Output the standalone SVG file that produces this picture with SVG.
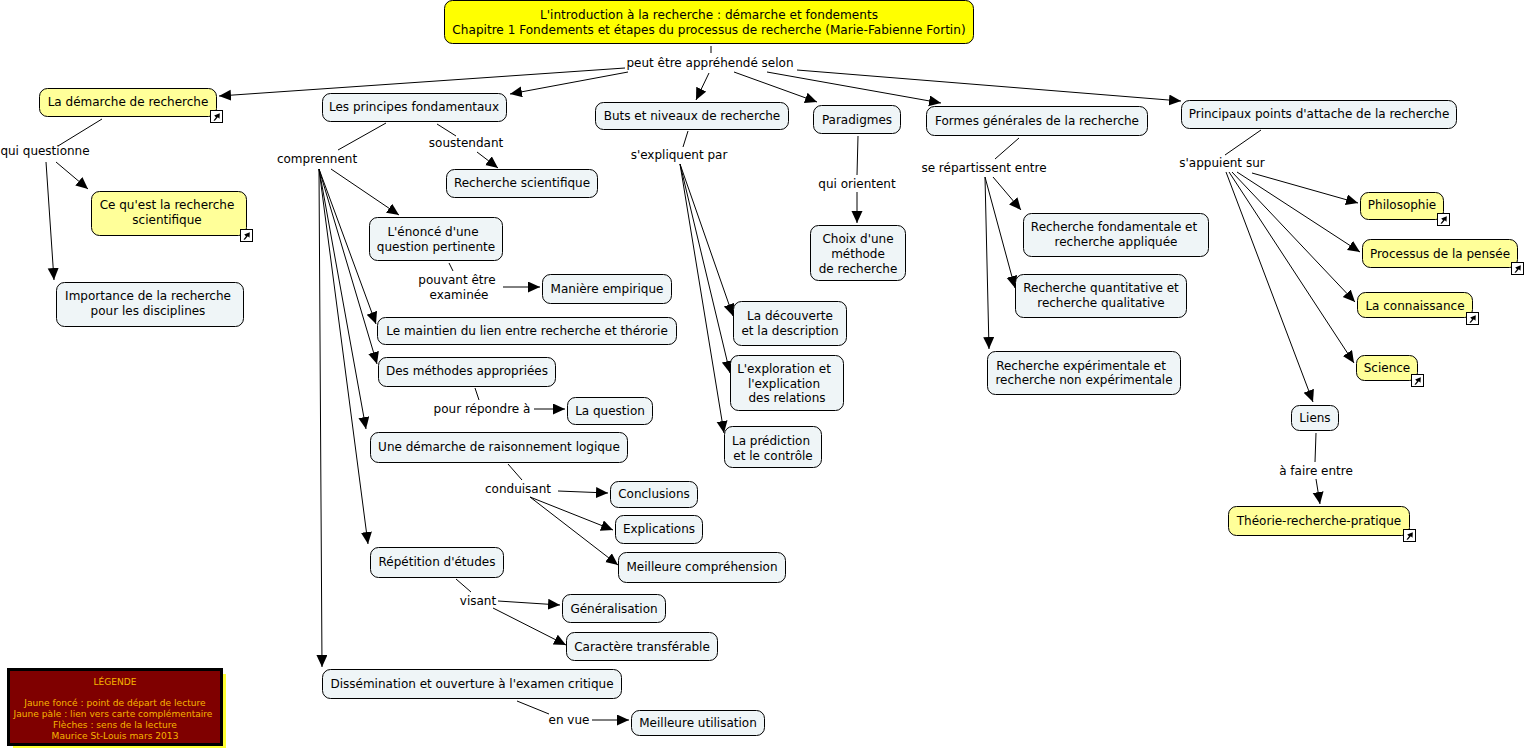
<svg xmlns="http://www.w3.org/2000/svg" width="1527" height="751" viewBox="0 0 1527 751">
<style>
text{font-family:"DejaVu Sans",Verdana,sans-serif;font-size:12px;fill:#000;text-anchor:middle}
rect.n{fill:#eff5f7;stroke:#000;stroke-width:1}
rect.y{fill:#ffff99;stroke:#000;stroke-width:1}
rect.r{fill:#ffff00;stroke:#000;stroke-width:1}
#connectors line{stroke:#000;stroke-width:1}
#connectors line.a{marker-end:url(#ah)}
text.l{font-size:9.1px;fill:#f7b500}
text.t{font-size:12.1px}
</style>
<defs>
<marker id="ah" markerUnits="userSpaceOnUse" markerWidth="14" markerHeight="12" refX="12" refY="5.5" orient="auto"><path d="M0 0L12 5.5L0 11Z" fill="#000"/></marker>
<symbol id="sc" width="13" height="13" viewBox="0 0 13 13"><rect x=".5" y=".5" width="12" height="12" fill="#fff" stroke="#000"/><path d="M3.500 10.500L6 7.300L4.200 5.500L9.800 3.200L9.500 8.800L7.800 7.200L4.800 10.800Z" fill="#000"/></symbol>
</defs>
<rect width="1527" height="751" fill="#fff"/>
<g id="connectors">
<line x1="711" y1="46" x2="711" y2="53"/>
<line class="a" x1="625" y1="68" x2="219" y2="96"/>
<line class="a" x1="628" y1="72" x2="510" y2="94"/>
<line class="a" x1="709" y1="73" x2="696" y2="100"/>
<line class="a" x1="734" y1="72" x2="817" y2="102"/>
<line class="a" x1="767" y1="72" x2="941" y2="103"/>
<line class="a" x1="797" y1="70" x2="1181" y2="101"/>
<line x1="102" y1="119" x2="58" y2="146"/>
<line class="a" x1="56" y1="162" x2="88" y2="189"/>
<line class="a" x1="46" y1="162" x2="54" y2="280"/>
<line x1="386" y1="123" x2="338" y2="150"/>
<line x1="437" y1="124" x2="456" y2="136"/>
<line class="a" x1="477" y1="152" x2="498" y2="168"/>
<line class="a" x1="331" y1="169" x2="399" y2="215"/>
<line class="a" x1="319" y1="169" x2="376" y2="324"/>
<line class="a" x1="319" y1="169" x2="377" y2="364"/>
<line class="a" x1="319" y1="169" x2="366" y2="429"/>
<line class="a" x1="319" y1="169" x2="368" y2="544"/>
<line class="a" x1="319" y1="169" x2="322" y2="667"/>
<line x1="449" y1="263" x2="453" y2="271"/>
<line class="a" x1="503" y1="287" x2="540" y2="287"/>
<line x1="475" y1="388" x2="479" y2="400"/>
<line class="a" x1="534" y1="409" x2="565" y2="409"/>
<line x1="508" y1="464" x2="522" y2="480"/>
<line class="a" x1="558" y1="491" x2="608" y2="493"/>
<line class="a" x1="530" y1="497" x2="613" y2="530"/>
<line class="a" x1="530" y1="497" x2="618" y2="565"/>
<line x1="456" y1="579" x2="471" y2="592"/>
<line class="a" x1="498" y1="601" x2="560" y2="605"/>
<line class="a" x1="493" y1="608" x2="566" y2="645"/>
<line x1="517" y1="701" x2="549" y2="714"/>
<line class="a" x1="592" y1="720" x2="629" y2="720"/>
<line x1="688" y1="131" x2="683" y2="147"/>
<line class="a" x1="680" y1="164" x2="733" y2="316"/>
<line class="a" x1="680" y1="164" x2="730" y2="373"/>
<line class="a" x1="680" y1="164" x2="724" y2="433"/>
<line x1="858" y1="136" x2="857" y2="175"/>
<line class="a" x1="857" y1="192" x2="857" y2="223"/>
<line x1="1019" y1="138" x2="995" y2="159"/>
<line class="a" x1="993" y1="177" x2="1021" y2="210"/>
<line class="a" x1="985" y1="177" x2="1015" y2="288"/>
<line class="a" x1="985" y1="177" x2="989" y2="349"/>
<line x1="1261" y1="130" x2="1225" y2="155"/>
<line class="a" x1="1252" y1="173" x2="1358" y2="203"/>
<line class="a" x1="1237" y1="172" x2="1360" y2="252"/>
<line class="a" x1="1232" y1="172" x2="1355" y2="302"/>
<line class="a" x1="1229" y1="172" x2="1354" y2="363"/>
<line class="a" x1="1226" y1="172" x2="1313" y2="402"/>
<line x1="1316" y1="433" x2="1315" y2="462"/>
<line class="a" x1="1316" y1="479" x2="1320" y2="504"/>
</g>
<g id="labels">
<text x="710" y="67">peut être appréhendé selon</text>
<text x="45" y="155">qui questionne</text>
<text x="317" y="163">comprennent</text>
<text x="466" y="147">soustendant</text>
<text x="679" y="159">s'expliquent par</text>
<text x="857" y="188">qui orientent</text>
<text x="984" y="172">se répartissent entre</text>
<text x="1222" y="167">s'appuient sur</text>
<text x="457" y="284">pouvant être</text>
<text x="459" y="299">examinée</text>
<text x="482" y="413">pour répondre à</text>
<text x="518" y="493">conduisant</text>
<text x="478" y="605">visant</text>
<text x="569" y="724">en vue</text>
<text x="1316" y="475">à faire entre</text>
</g>
<g id="root"><rect class="r" x="444.500" y=".5" width="529" height="43" rx="8"/><text class="t" x="709" y="19">L'introduction à la recherche : démarche et fondements</text><text class="t" x="709" y="34">Chapitre 1 Fondements et étapes du processus de recherche (Marie-Fabienne Fortin)</text></g>
<g id="n1"><rect class="y" x="39.500" y="88.500" width="177" height="28" rx="8"/><text x="128" y="106">La démarche de recherche</text><use href="#sc" x="210" y="110"/></g>
<g id="n2"><rect class="n" x="322.500" y="93.500" width="184" height="28" rx="8"/><text x="414" y="111">Les principes fondamentaux</text></g>
<g id="n3"><rect class="n" x="595.500" y="102.500" width="193" height="27" rx="8"/><text x="692" y="120">Buts et niveaux de recherche</text></g>
<g id="n4"><rect class="n" x="813.500" y="105.500" width="87" height="28" rx="8"/><text x="857" y="124">Paradigmes</text></g>
<g id="n5"><rect class="n" x="926.500" y="106.500" width="221" height="29" rx="8"/><text x="1037" y="125">Formes générales de la recherche</text></g>
<g id="n6"><rect class="n" x="1181.500" y="100.500" width="275" height="28" rx="8"/><text x="1319" y="118">Principaux points d'attache de la recherche</text></g>
<g id="n7"><rect class="y" x="91.500" y="191.500" width="155" height="44" rx="8"/><text x="167" y="209">Ce qu'est la recherche</text><text x="167" y="224">scientifique</text><use href="#sc" x="240" y="229"/></g>
<g id="n8"><rect class="n" x="56.500" y="282.500" width="187" height="44" rx="8"/><text x="148" y="300">Importance de la recherche</text><text x="148" y="315">pour les disciplines</text></g>
<g id="n9"><rect class="n" x="446.500" y="169.500" width="151" height="28" rx="8"/><text x="522" y="187">Recherche scientifique</text></g>
<g id="n10"><rect class="n" x="369.500" y="217.500" width="133" height="43" rx="8"/><text x="433" y="236">L'énoncé d'une</text><text x="436" y="251">question pertinente</text></g>
<g id="n11"><rect class="n" x="542.500" y="274.500" width="129" height="29" rx="8"/><text x="607" y="293">Manière empirique</text></g>
<g id="n12"><rect class="n" x="377.500" y="317.500" width="299" height="27" rx="8"/><text x="527" y="335">Le maintien du lien entre recherche et thérorie</text></g>
<g id="n13"><rect class="n" x="378.500" y="357.500" width="177" height="29" rx="8"/><text x="467" y="375">Des méthodes appropriées</text></g>
<g id="n14"><rect class="n" x="567.500" y="397.500" width="85" height="27" rx="8"/><text x="610" y="415">La question</text></g>
<g id="n15"><rect class="n" x="370.500" y="432.500" width="257" height="30" rx="8"/><text x="499" y="451">Une démarche de raisonnement logique</text></g>
<g id="n16"><rect class="n" x="610.500" y="481.500" width="87" height="26" rx="8"/><text x="654" y="498">Conclusions</text></g>
<g id="n17"><rect class="n" x="615.500" y="515.500" width="87" height="28" rx="8"/><text x="659" y="533">Explications</text></g>
<g id="n18"><rect class="n" x="618.500" y="552.500" width="167" height="30" rx="8"/><text x="702" y="571">Meilleure compréhension</text></g>
<g id="n19"><rect class="n" x="370.500" y="547.500" width="133" height="30" rx="8"/><text x="437" y="566">Répétition d'études</text></g>
<g id="n20"><rect class="n" x="562.500" y="594.500" width="103" height="28" rx="8"/><text x="614" y="613">Généralisation</text></g>
<g id="n21"><rect class="n" x="566.500" y="632.500" width="151" height="28" rx="8"/><text x="642" y="651">Caractère transférable</text></g>
<g id="n22"><rect class="n" x="322.500" y="669.500" width="299" height="29" rx="8"/><text x="472" y="688">Dissémination et ouverture à l'examen critique</text></g>
<g id="n23"><rect class="n" x="631.500" y="710.500" width="133" height="25" rx="8"/><text x="698" y="727">Meilleure utilisation</text></g>
<g id="n24"><rect class="n" x="733.500" y="301.500" width="113" height="44" rx="8"/><text x="790" y="320">La découverte</text><text x="790" y="335">et la description</text></g>
<g id="n25"><rect class="n" x="730.500" y="355.500" width="113" height="55" rx="8"/><text x="784" y="373">L'exploration et</text><text x="784" y="388">l'explication</text><text x="787" y="402">des relations</text></g>
<g id="n26"><rect class="n" x="724.500" y="426.500" width="97" height="41" rx="8"/><text x="771" y="445">La prédiction</text><text x="773" y="460">et le contrôle</text></g>
<g id="n27"><rect class="n" x="810.500" y="225.500" width="95" height="55" rx="8"/><text x="858" y="243">Choix d'une</text><text x="858" y="258">méthode</text><text x="858" y="273">de recherche</text></g>
<g id="n28"><rect class="n" x="1023.500" y="213.500" width="185" height="43" rx="8"/><text x="1114" y="231">Recherche fondamentale et</text><text x="1116" y="246">recherche appliquée</text></g>
<g id="n29"><rect class="n" x="1015.500" y="274.500" width="171" height="43" rx="8"/><text x="1101" y="292">Recherche quantitative et</text><text x="1101" y="307">recherche qualitative</text></g>
<g id="n30"><rect class="n" x="987.500" y="351.500" width="193" height="43" rx="8"/><text x="1081" y="370">Recherche expérimentale et</text><text x="1084" y="384">recherche non expérimentale</text></g>
<g id="n31"><rect class="y" x="1360.500" y="192.500" width="83" height="27" rx="8"/><text x="1402" y="209">Philosophie</text><use href="#sc" x="1437" y="213"/></g>
<g id="n32"><rect class="y" x="1362.500" y="239.500" width="155" height="28" rx="8"/><text x="1440" y="258">Processus de la pensée</text><use href="#sc" x="1511" y="262"/></g>
<g id="n33"><rect class="y" x="1357.500" y="292.500" width="115" height="25" rx="8"/><text x="1415" y="310">La connaissance</text><use href="#sc" x="1466" y="312"/></g>
<g id="n34"><rect class="y" x="1356.500" y="355.500" width="61" height="25" rx="8"/><text x="1387" y="372">Science</text><use href="#sc" x="1411" y="374"/></g>
<g id="n35"><rect class="n" x="1291.500" y="405.500" width="47" height="25" rx="8"/><text x="1315" y="422">Liens</text></g>
<g id="n36"><rect class="y" x="1228.500" y="506.500" width="181" height="29" rx="8"/><text x="1319" y="525">Théorie-recherche-pratique</text><use href="#sc" x="1403" y="529"/></g>
<g id="legend"><rect x="13" y="674" width="213" height="74" fill="#ffff33"/><rect x="8.500" y="669.500" width="213" height="75" fill="#7f0000" stroke="#000" stroke-width="3"/><text class="l" x="115" y="684.500">LÉGENDE</text><text class="l" x="115" y="706">Jaune foncé : point de départ de lecture</text><text class="l" x="113" y="717">Jaune pàle : lien vers carte complémentaire</text><text class="l" x="115" y="728">Flèches : sens de la lecture</text><text class="l" x="115" y="739">Maurice St-Louis mars 2013</text></g>
</svg>
